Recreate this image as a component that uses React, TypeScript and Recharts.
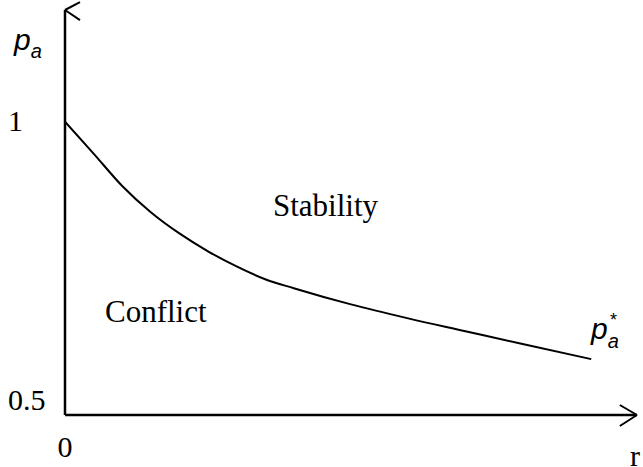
import { LineChart, Line, XAxis, YAxis, ReferenceLine } from "recharts";

// curve p_a*(r)
const rValues = [0, 0.5, 1, 1.5, 2, 2.5, 3, 3.5, 4, 5, 6, 7, 8, 9.2];
const paValues = [1.0, 0.943, 0.885, 0.838, 0.8, 0.768, 0.741, 0.718, 0.702, 0.673, 0.648, 0.625, 0.602, 0.575];

const xTicks = [0, 10];
const xTickLabels = ["0", "r"];
const yTicks = [0.5, 1];
const yTickLabels = ["0.5", "1"];

const serif = "'Liberation Serif', 'Times New Roman', serif";
const sans = "'Liberation Sans', Arial, sans-serif";

const XTick = (props: any) => {
  const { x, y, payload } = props;
  const i = xTicks.indexOf(payload.value);
  const isEnd = i === xTicks.length - 1;
  return (
    <text
      x={isEnd ? x - 5 : x}
      y={isEnd ? y + 51 : y + 42}
      textAnchor={isEnd ? "start" : "middle"}
      fontFamily={serif}
      fontSize={30}
      fill="#000"
    >
      {xTickLabels[i]}
    </text>
  );
};

const YTick = (props: any) => {
  const { x, y, payload } = props;
  const i = yTicks.indexOf(payload.value);
  return (
    <text x={x - 57} y={y + 9} textAnchor="start" fontFamily={serif} fontSize={30} fill="#000">
      {yTickLabels[i]}
    </text>
  );
};

export default function App() {
  const data = rValues.map((r, i) => ({ r, pa: paValues[i] }));
  return (
    <div style={{ position: "absolute", left: 0, top: 0, background: "#fff" }}>
      <LineChart width={643} height={467} data={data} margin={{ top: 10, right: 6, bottom: 0, left: 0 }}>
        <XAxis
          type="number"
          dataKey="r"
          domain={[0, 10]}
          ticks={xTicks}
          height={52}
          tickSize={0}
          tickMargin={0}
          tickLine={false}
          axisLine={{ stroke: "#000", strokeWidth: 2.5 }}
          tick={XTick}
          allowDataOverflow
        />
        <YAxis
          type="number"
          domain={[0.475, 1.2]}
          ticks={yTicks}
          width={65}
          tickSize={0}
          tickMargin={0}
          tickLine={false}
          axisLine={{ stroke: "#000", strokeWidth: 2.5 }}
          tick={YTick}
          allowDataOverflow
        />
        {/* arrow heads */}
        <ReferenceLine segment={[{ x: 0, y: 1.2 }, { x: 0.262, y: 1.2143 }]} stroke="#000" strokeWidth={2} ifOverflow="visible" />
        <ReferenceLine segment={[{ x: 0, y: 1.2 }, { x: 0.262, y: 1.182 }]} stroke="#000" strokeWidth={2} ifOverflow="visible" />
        <ReferenceLine segment={[{ x: 10, y: 0.475 }, { x: 9.7, y: 0.4929 }]} stroke="#000" strokeWidth={2} ifOverflow="visible" />
        <ReferenceLine segment={[{ x: 10, y: 0.475 }, { x: 9.7, y: 0.4553 }]} stroke="#000" strokeWidth={2} ifOverflow="visible" />
        <Line
          type="monotone"
          dataKey="pa"
          stroke="#000"
          strokeWidth={2}
          dot={false}
          activeDot={false}
          isAnimationActive={false}
        />
        <g>
          <text x={14} y={50} fontFamily={sans} fontStyle="italic" fontSize={30} fill="#000">
            p<tspan fontSize={20} dy={8}>a</tspan>
          </text>
          <text x={273} y={216} fontFamily={serif} fontSize={31} fill="#000">Stability</text>
          <text x={105} y={322} fontFamily={serif} fontSize={31} fill="#000">Conflict</text>
          <text x={591} y={339} fontFamily={sans} fontStyle="italic" fontSize={30} fill="#000">
            p<tspan fontSize={20} dy={9}>a</tspan>
          </text>
          <text x={610} y={326} fontFamily={sans} fontSize={18} fill="#000">*</text>
        </g>
      </LineChart>
    </div>
  );
}
